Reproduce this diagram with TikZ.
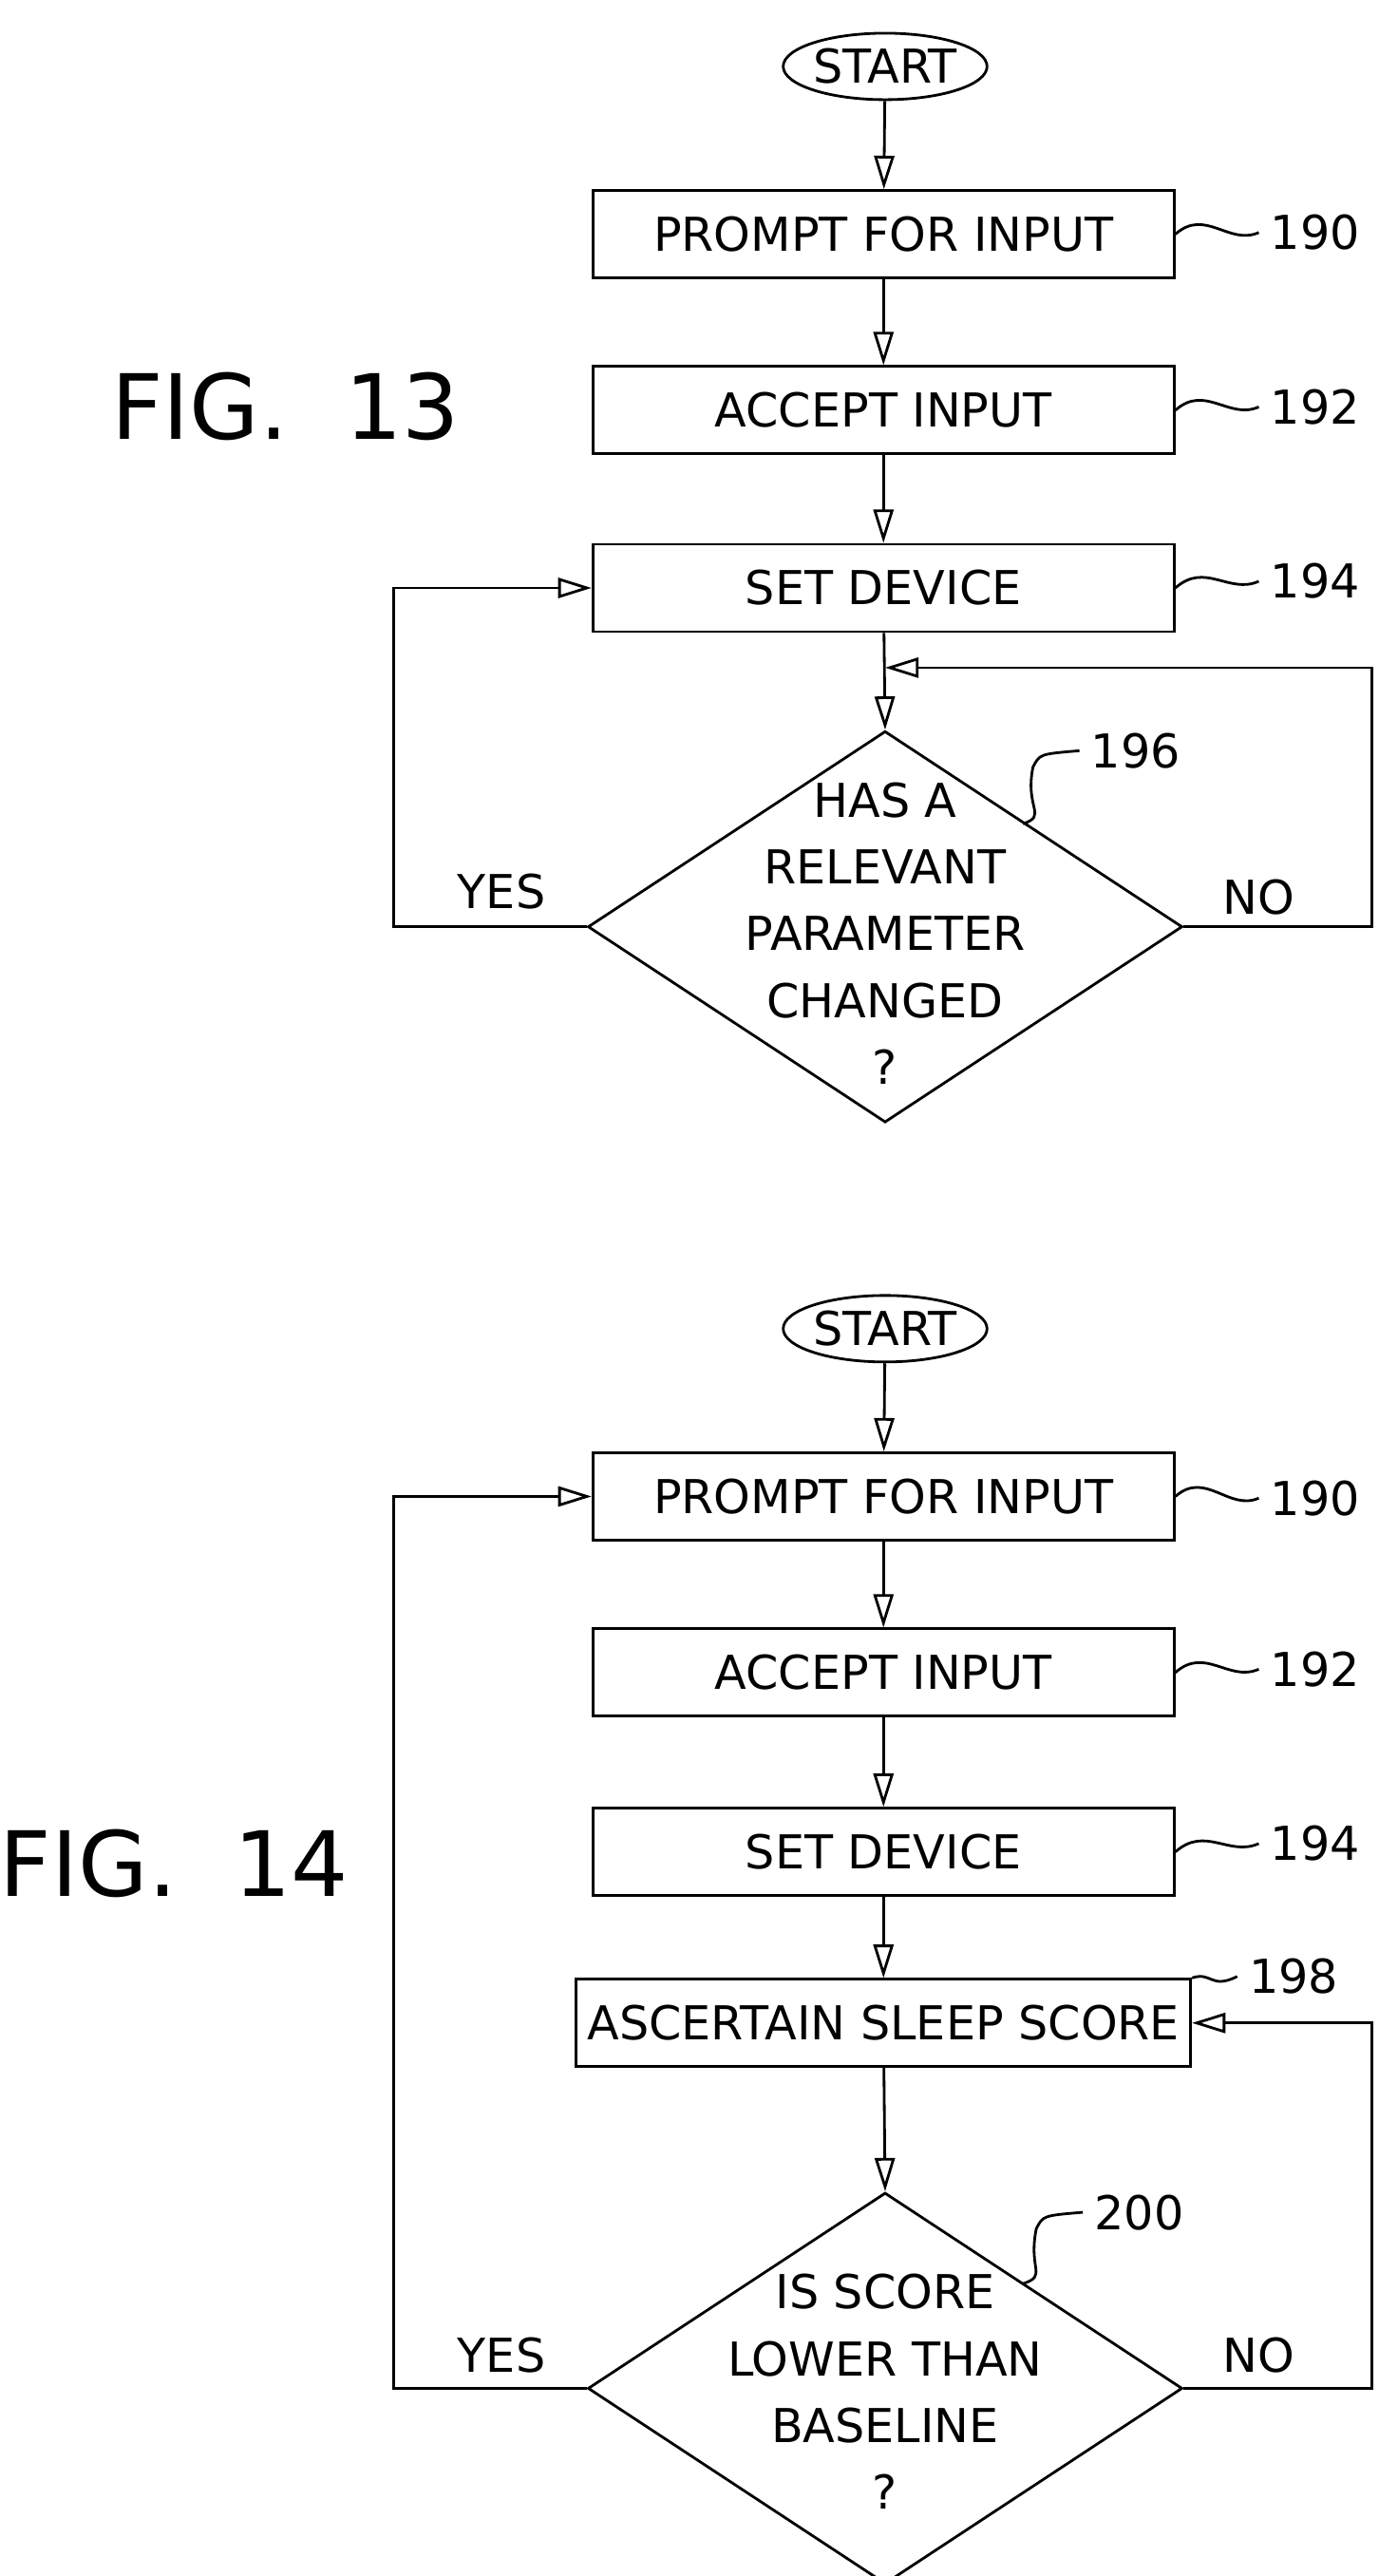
\documentclass[tikz,border=0pt]{standalone}
\usepackage{fontspec}
\setmainfont{DejaVu Sans}
\usetikzlibrary{positioning}
\usetikzlibrary{arrows.meta}
\usetikzlibrary{shapes.geometric}

\tikzset{
    box/.style={draw,thick,minimum width=6.12cm,minimum height=0.92cm,
        font=\fontsize{14}{17}\selectfont},
    term/.style={draw,thick,ellipse,minimum width=1.85cm,minimum height=0.7cm,
        inner sep=0pt,font=\fontsize{14}{17}\selectfont},
    dec/.style={draw,thick,diamond,minimum width=6.26cm,minimum height=4.12cm,
        inner sep=0pt},
    dectext/.style={align=center,font=\fontsize{14}{20}\selectfont},
    ref/.style={font=\fontsize{14}{17}\selectfont,anchor=west},
    flow/.style={thick,-{Triangle[open,length=10pt,width=6pt]}},
    squig/.style={thick},
}

\begin{document}
\begin{tikzpicture}[x=0.01748cm,y=-0.01748cm]
    \useasboundingbox (0,0) rectangle (830,1551);

    % FIG. 13
    \node[font=\fontsize{27}{30}\selectfont] (f13) at (172,245) {FIG.\ \ 13};
    \node[term]                          (s13) at (533,40) {START};
    \node[box]                           (p13) at (532,141) {PROMPT FOR INPUT};
    \node[box]                           (a13) at (532,247) {ACCEPT INPUT};
    \node[box]                           (d13) at (532,354) {SET DEVICE};
    \node[dec]                           (q13) at (533,558) {};
    \node[dectext]                       (t13) at (533,562) {HAS A\\RELEVANT\\PARAMETER\\CHANGED\\?};
    \coordinate                          (l13) at (237,558);
    \coordinate                          (r13) at (826,558);
    \coordinate                          (m13) at (533,402);
    \node[ref] (n190a) at (758,140) {190};
    \node[ref] (n192a) at (758,245) {192};
    \node[ref] (n194a) at (758,350) {194};
    \node[ref] (n196)  at (650,452) {196};
    \node (y13) at (302,537) [font=\fontsize{14}{17}\selectfont] {YES};
    \node (no13) at (758,540) [font=\fontsize{14}{17}\selectfont] {NO};

    \draw[flow] (s13) -- (p13);
    \draw[flow] (p13) -- (a13);
    \draw[flow] (a13) -- (d13);
    \draw[flow] (d13) -- (q13.north);
    \draw[flow] (q13.west) -- (l13) |- (d13.west);
    \draw[flow] (q13.east) -- (r13) |- (m13);
    \draw[squig] (p13.east) .. controls +(18,-16) and +(-18,8) .. (n190a.west);
    \draw[squig] (a13.east) .. controls +(18,-16) and +(-18,8) .. (n192a.west);
    \draw[squig] (d13.east) .. controls +(18,-16) and +(-18,8) .. (n194a.west);
    \draw[squig] (616,496) .. controls +(15,-5) and +(-5,25) .. (622,462) .. controls +(4,-8) .. (n196.west);

    % FIG. 14
    \node[font=\fontsize{27}{30}\selectfont] (f14) at (105,1122) {FIG.\ \ 14};
    \node[term]                          (s14) at (533,800) {START};
    \node[box]                           (p14) at (532,901) {PROMPT FOR INPUT};
    \node[box]                           (a14) at (532,1007) {ACCEPT INPUT};
    \node[box]                           (d14) at (532,1115) {SET DEVICE};
    \node[box]                           (g14) at (532,1218) {ASCERTAIN SLEEP SCORE};
    \node[dec]                           (q14) at (533,1438) {};
    \node[dectext]                       (t14) at (533,1440) {IS SCORE\\LOWER THAN\\BASELINE\\?};
    \coordinate                          (l14) at (237,1438);
    \coordinate                          (r14) at (826,1438);
    \node[ref] (n190b) at (758,902) {190};
    \node[ref] (n192b) at (758,1005) {192};
    \node[ref] (n194b) at (758,1110) {194};
    \node[ref] (n198)  at (745,1190) {198};
    \node[ref] (n200)  at (652,1332) {200};
    \node (y14) at (302,1418) [font=\fontsize{14}{17}\selectfont] {YES};
    \node (no14) at (758,1418) [font=\fontsize{14}{17}\selectfont] {NO};

    \draw[flow] (s14) -- (p14);
    \draw[flow] (p14) -- (a14);
    \draw[flow] (a14) -- (d14);
    \draw[flow] (d14) -- (g14);
    \draw[flow] (g14) -- (q14.north);
    \draw[flow] (q14.west) -- (l14) |- (p14.west);
    \draw[flow] (q14.east) -- (r14) |- (g14.east);
    \draw[squig] (p14.east) .. controls +(18,-16) and +(-18,8) .. (n190b.west);
    \draw[squig] (a14.east) .. controls +(18,-16) and +(-18,8) .. (n192b.west);
    \draw[squig] (d14.east) .. controls +(18,-16) and +(-18,8) .. (n194b.west);
    \draw[squig] (g14.north east) .. controls +(12,-4) and +(-16,8) .. (n198.west);
    \draw[squig] (616,1375) .. controls +(15,-5) and +(-5,25) .. (624,1342) .. controls +(4,-8) .. (n200.west);
\end{tikzpicture}
\end{document}
